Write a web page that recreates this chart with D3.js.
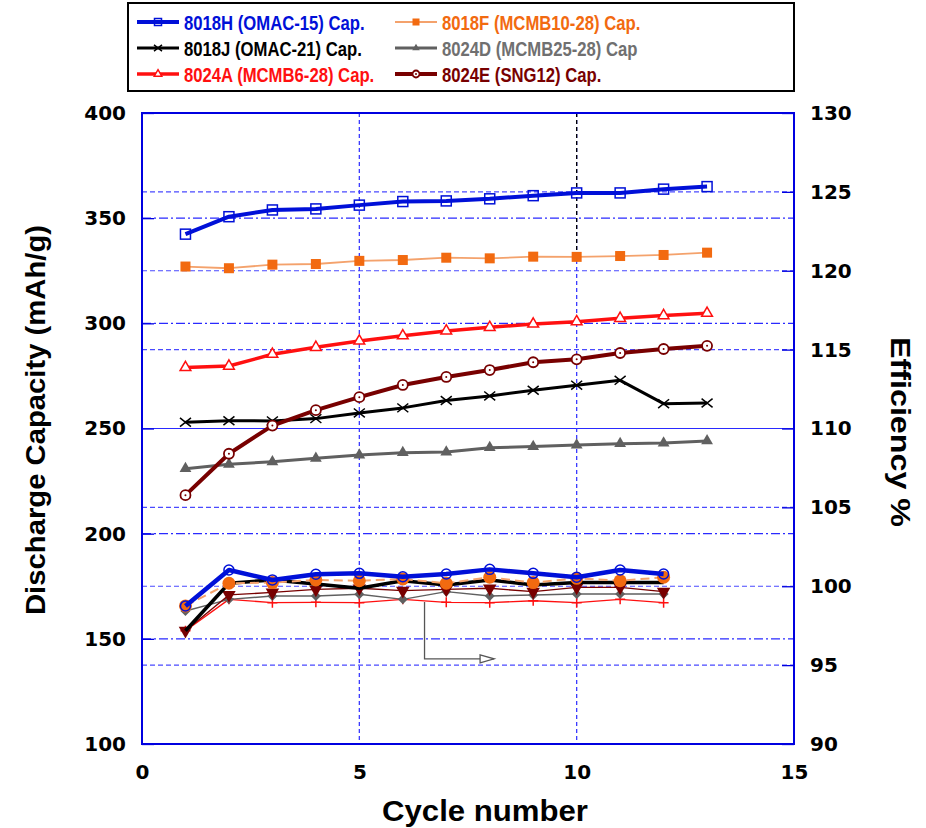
<!DOCTYPE html>
<html><head><meta charset="utf-8">
<script src="https://cdn.jsdelivr.net/npm/d3@7"></script>
<style>body{margin:0;background:#fff}svg{display:block}</style>
</head><body><svg id="c" width="926" height="828" font-family="'Liberation Sans',Arial,sans-serif" font-weight="bold"></svg>
<script>
const cycles = [1,2,3,4,5,6,7,8,9,10,11,12,13];
const effCycles = [1,2,3,4,5,6,7,8,9,10,11,12];
// Discharge capacity (mAh/g)
const cap8018H = [342.4,350.7,353.9,354.4,356.2,357.9,358.2,359.2,360.7,362.0,362.0,363.8,365.0];
const cap8018F = [327.0,326.2,327.9,328.2,329.7,330.1,331.2,330.9,331.7,331.6,332.0,332.5,333.6];
const cap8018J = [253.0,253.7,253.6,254.7,257.4,259.8,263.3,265.5,268.2,270.6,272.9,261.8,262.1];
const cap8024D = [230.9,233.0,234.2,235.8,237.4,238.5,238.8,240.9,241.4,242.1,242.8,243.1,244.1];
const cap8024A = [279.0,279.7,285.3,288.6,291.6,294.1,296.4,298.1,299.7,300.8,302.4,303.7,304.8];
const cap8024E = [218.3,238.0,251.4,258.7,264.9,270.7,274.5,277.8,281.5,282.9,285.9,287.8,289.3];
// Efficiency (%)
const eff8018H = [98.75,101.03,100.4,100.76,100.82,100.6,100.78,101.07,100.82,100.57,101.03,100.78];
const eff8018F = [98.75,100.19,100.23,100.4,100.35,100.46,100.19,100.57,100.23,100.5,100.35,100.57];
const eff8018J = [97.18,100.19,100.4,100.14,99.87,100.35,100.08,100.4,100.08,100.23,100.23,100.23];
const eff8024D = [98.43,99.17,99.38,99.38,99.49,99.17,99.66,99.38,99.45,99.51,99.51,99.51];
const eff8024A = [97.18,99.17,98.96,98.98,98.96,99.17,98.98,98.96,99.08,98.96,99.17,98.96];
const eff8024E = [97.18,99.45,99.61,99.8,99.87,99.72,99.8,99.87,99.66,99.93,99.93,99.66];
const xTicks = [0,5,10,15];
const yLeftTicks = [100,150,200,250,300,350,400];
const yRightTicks = [90,95,100,105,110,115,120,125,130];
const legendLabels = ["8018H (OMAC-15) Cap.","8018F (MCMB10-28) Cap.","8018J (OMAC-21) Cap.","8024D (MCMB25-28) Cap","8024A (MCMB6-28) Cap.","8024E (SNG12) Cap."];

const L=142,R=794,T=113,B=744;
const svg=d3.select("#c");
const x=d3.scaleLinear().domain([0,15]).range([L,R]);
const yL=d3.scaleLinear().domain([100,400]).range([B,T]);
const yR=d3.scaleLinear().domain([90,130]).range([B,T]);

// grid
const g=svg.append("g");
yRightTicks.filter(v=>v>90&&v<130).forEach(v=>{
  g.append("line").attr("x1",L).attr("x2",R).attr("y1",yR(v)).attr("y2",yR(v))
   .attr("stroke","#4a4aff").attr("stroke-width",1.2).attr("stroke-dasharray","5,3");
});
yLeftTicks.filter(v=>v>100&&v<400).forEach(v=>{
  g.append("line").attr("x1",L).attr("x2",R).attr("y1",yL(v)).attr("y2",yL(v))
   .attr("stroke","#2a2aff").attr("stroke-width",1.2).attr("stroke-dasharray",v===250?null:"9,3,2,3");
});
g.append("line").attr("x1",x(5)).attr("x2",x(5)).attr("y1",T).attr("y2",B)
  .attr("stroke","#3a3aff").attr("stroke-width",1.3).attr("stroke-dasharray","4,3");
g.append("line").attr("x1",x(10)).attr("x2",x(10)).attr("y1",T).attr("y2",B)
  .attr("stroke","#3a3aff").attr("stroke-width",1.3).attr("stroke-dasharray","4,3");
g.append("line").attr("x1",x(10)).attr("x2",x(10)).attr("y1",T).attr("y2",yL(330))
  .attr("stroke","#000").attr("stroke-width",1.3).attr("stroke-dasharray","4,3");

// frame
svg.append("rect").attr("x",L).attr("y",T).attr("width",R-L).attr("height",B-T)
  .attr("fill","none").attr("stroke","#0000e0").attr("stroke-width",2);

// axes
const axL=d3.axisLeft(yL).tickValues(yLeftTicks).tickSize(-12).tickPadding(16);
const axR=d3.axisRight(yR).tickValues(yRightTicks).tickSize(-12).tickPadding(16);
const axB=d3.axisBottom(x).tickValues(xTicks).tickSize(0).tickPadding(21);
function styleAx(sel){sel.attr("font-family","'DejaVu Sans',sans-serif").attr("font-size",20).attr("font-weight","bold");
  sel.select(".domain").remove();sel.selectAll(".tick line").attr("stroke","#0000e0").attr("stroke-width",1.3);
  sel.selectAll("text").attr("fill","#000");}
svg.append("g").attr("transform",`translate(${L},0)`).call(axL).call(styleAx);
svg.append("g").attr("transform",`translate(${R},0)`).call(axR).call(styleAx);
svg.append("g").attr("transform",`translate(0,${B})`).call(axB).call(styleAx);

// titles
svg.append("text").attr("transform","translate(45,420) rotate(-90)").attr("text-anchor","middle")
  .attr("font-size",27).attr("textLength",390).attr("lengthAdjust","spacingAndGlyphs").text("Discharge Capacity (mAh/g)");
svg.append("text").attr("transform","translate(891,432) rotate(90)").attr("text-anchor","middle")
  .attr("font-size",27).attr("textLength",190).attr("lengthAdjust","spacingAndGlyphs").text("Efficiency %");
svg.append("text").attr("x",485).attr("y",821).attr("text-anchor","middle")
  .attr("font-size",29).attr("textLength",206).attr("lengthAdjust","spacingAndGlyphs").text("Cycle number");

// markers
function marker(sel,type,size,color,cx,cy){
  const m=sel.append("g").attr("transform",`translate(${cx},${cy})`);
  const s=size/2;
  if(type==="osquare") m.append("rect").attr("x",-s).attr("y",-s).attr("width",size).attr("height",size).attr("fill","none").attr("stroke",color).attr("stroke-width",1.5);
  else if(type==="fsquare") m.append("rect").attr("x",-s).attr("y",-s).attr("width",size).attr("height",size).attr("fill",color);
  else if(type==="xmark") m.append("path").attr("d",`M${-s},${-s*0.8}L${s},${s*0.8}M${-s},${s*0.8}L${s},${-s*0.8}`).attr("stroke",color).attr("stroke-width",1.5);
  else if(type==="ftri") m.append("path").attr("d",d3.symbol(d3.symbolTriangle,size*size*0.5)()).attr("fill",color);
  else if(type==="otri") m.append("path").attr("d",d3.symbol(d3.symbolTriangle,size*size*0.5)()).attr("fill","#fff").attr("stroke",color).attr("stroke-width",1.5);
  else if(type==="ocircdot"){m.append("circle").attr("r",s).attr("fill","#fff").attr("stroke",color).attr("stroke-width",1.8);m.append("circle").attr("r",1).attr("fill",color);}
  else if(type==="ocirc") m.append("circle").attr("r",s).attr("fill","none").attr("stroke",color).attr("stroke-width",1.5);
  else if(type==="fcirc") m.append("circle").attr("r",s).attr("fill",color);
  else if(type==="fdtri") m.append("path").attr("d",d3.symbol(d3.symbolTriangle,size*size*0.55)()).attr("transform","rotate(180)").attr("fill",color);
  else if(type==="fdiam") m.append("path").attr("d",`M0,${-s}L${s},0L0,${s}L${-s},0Z`).attr("fill",color);
  else if(type==="plus") m.append("path").attr("d",`M${-s},0L${s},0M0,${-s}L0,${s}`).attr("stroke",color).attr("stroke-width",1.5);
}

const blue="#0010d8",orange="#f26a10",orangeL="#f4a26c",black="#000",gray="#606060",red="#ff1010",maroon="#780000";
const capSeries=[
  {v:cap8018H,c:blue,lc:blue,w:4,m:"osquare",ms:10},
  {v:cap8018F,c:orange,lc:orangeL,w:1.8,m:"fsquare",ms:10},
  {v:cap8018J,c:black,lc:black,w:3,m:"xmark",ms:11},
  {v:cap8024D,c:gray,lc:gray,w:3,m:"ftri",ms:11},
  {v:cap8024A,c:red,lc:red,w:3.5,m:"otri",ms:10},
  {v:cap8024E,c:maroon,lc:maroon,w:4,m:"ocircdot",ms:10}
];
const effSeries=[
  {v:eff8024A,c:red,lc:red,w:1.4,m:"plus",ms:10,dash:null},
  {v:eff8024D,c:gray,lc:gray,w:1.4,m:"fdiam",ms:10,dash:null},
  {v:eff8024E,c:maroon,lc:maroon,w:1.4,m:"fdtri",ms:12,dash:null},
  {v:eff8018J,c:black,lc:black,w:3.5,m:null,ms:0,dash:null},
  {v:eff8018F,c:orange,lc:orangeL,w:2,m:"fcirc",ms:13,dash:"9,5"},
  {v:eff8018H,c:blue,lc:blue,w:4.5,m:"ocirc",ms:10,dash:null}
];
const dg=svg.append("g");
function drawSeries(s,xs,ys){
  const line=d3.line().x((d,i)=>x(xs[i])).y(d=>ys(d));
  dg.append("path").datum(s.v).attr("d",line).attr("fill","none").attr("stroke",s.lc)
    .attr("stroke-width",s.w).attr("stroke-linejoin","round").attr("stroke-dasharray",s.dash||null);
  if(s.m) s.v.forEach((d,i)=>marker(dg,s.m,s.ms,s.c,x(xs[i]),ys(d)));
}
effSeries.forEach(s=>drawSeries(s,effCycles,yR));
capSeries.forEach(s=>drawSeries(s,cycles,yL));

// annotation arrow
const ag=svg.append("g").attr("stroke","#555").attr("stroke-width",1.3).attr("fill","none");
ag.append("path").attr("d",`M${x(6.5)},${yR(99)}L${x(6.5)},${yR(95.4)}L${x(8.1)},${yR(95.4)}`);
ag.append("path").attr("d",`M${x(8.1)-14},${yR(95.4)-4}L${x(8.1)},${yR(95.4)}L${x(8.1)-14},${yR(95.4)+4}Z`).attr("fill","#fff");

// legend
const lg=svg.append("g");
lg.append("rect").attr("x",128).attr("y",3).attr("width",666).attr("height",88).attr("fill","#fff").attr("stroke","#000").attr("stroke-width",2);
const textColors=[blue,orange,black,"#707070",red,maroon];
capSeries.forEach((s,i)=>{
  const col=i%2,row=Math.floor(i/2);
  const x0=col?395:137, yy=22+row*26;
  lg.append("line").attr("x1",x0).attr("x2",x0+42).attr("y1",yy).attr("y2",yy).attr("stroke",s.lc).attr("stroke-width",s.w);
  marker(lg,s.m,s.m==="xmark"?8:7,s.c,x0+21,yy);
  const t=lg.append("text").attr("x",x0+47).attr("y",yy+7.5).attr("font-size",19.5).attr("fill",textColors[i]).text(legendLabels[i]);
  const w=t.node().getComputedTextLength();
  t.attr("textLength",w*0.855).attr("lengthAdjust","spacingAndGlyphs");
});
</script></body></html>
